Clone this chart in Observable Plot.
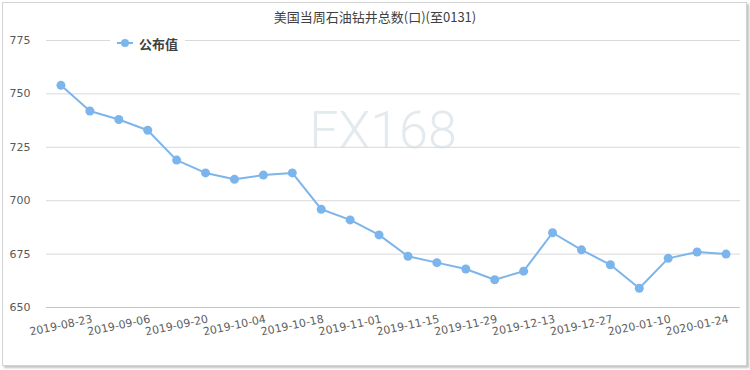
<!DOCTYPE html>
<html><head><meta charset="utf-8">
<script src="https://cdn.jsdelivr.net/npm/d3@7"></script>
<script src="https://cdn.jsdelivr.net/npm/@observablehq/plot@0.6"></script>
<style>
body{margin:0;background:#fff;}
#wrap{position:relative;width:750px;height:370px;overflow:hidden;font-family:"DejaVu Sans",sans-serif;background:#fff;}
#frame{position:absolute;left:2px;top:2px;width:743px;height:362px;border:1px solid #d3d3d3;box-shadow:2px 2px 2px #c4c4c4;background:#fff;}
#chart{position:absolute;left:0;top:0;}
#title{position:absolute;left:0;width:750px;top:8px;text-align:center;font-family:"Noto Sans CJK SC",sans-serif;font-size:13px;color:#404040;line-height:18px;}
#legend{position:absolute;left:110px;top:34px;width:75px;height:18px;background:#fff;display:flex;align-items:center;}
#legend svg{margin-left:7px;}
#legend span{font-family:"Noto Sans CJK SC",sans-serif;font-size:13px;font-weight:bold;color:#404040;margin-left:6px;}
#wm{position:absolute;left:258px;width:250px;top:98px;text-align:center;font-family:Roboto,sans-serif;font-weight:300;font-size:52px;color:#e3eaee;line-height:66px;}
</style></head>
<body>
<div id="wrap">
  <div id="frame"></div>
  <div id="wm">FX168</div>
  <div id="chart"></div>
  <div id="title">美国当周石油钻井总数(口)(至0131)</div>
  <div id="legend"><svg width="16" height="10"><line x1="0" y1="5" x2="16" y2="5" stroke="#7cb5ec" stroke-width="2"/><circle cx="8" cy="5" r="4" fill="#7cb5ec"/></svg><span>公布值</span></div>
</div>
<script>
const dates = ["2019-08-23","2019-08-30","2019-09-06","2019-09-13","2019-09-20","2019-09-27","2019-10-04","2019-10-11","2019-10-18","2019-10-25","2019-11-01","2019-11-08","2019-11-15","2019-11-22","2019-11-29","2019-12-06","2019-12-13","2019-12-20","2019-12-27","2020-01-03","2020-01-10","2020-01-17","2020-01-24","2020-01-31"];
const values = [754,742,738,733,719,713,710,712,713,696,691,684,674,671,668,663,667,685,677,670,659,673,676,675];
const tickLabels = ["2019-08-23","2019-09-06","2019-09-20","2019-10-04","2019-10-18","2019-11-01","2019-11-15","2019-11-29","2019-12-13","2019-12-27","2020-01-10","2020-01-24"];
const yTicks = [650,675,700,725,750,775];
const gridTicks = [675,700,725,750,775];

const data = dates.map((d,i)=>({date:d, value:values[i]}));
const color = "#7cb5ec";

const plot = Plot.plot({
  width: 750, height: 370,
  marginLeft: 46, marginRight: 10, marginTop: 40, marginBottom: 63,
  style: {background: "transparent", fontFamily: "DejaVu Sans, sans-serif"},
  x: {type: "point", domain: dates, padding: 0.5, round: false, axis: null},
  y: {domain: [650, 775], axis: null},
  marks: [
    Plot.ruleY(gridTicks, {stroke: "#d9d9d9", strokeWidth: 1}),
    Plot.ruleY([650], {stroke: "#b4c8e6", strokeWidth: 1}),
    Plot.axisY({ticks: yTicks, tickSize: 0, tickPadding: 16, fontSize: 11, fill: "#595959", label: null, tickFormat: d=>String(d)}),
    Plot.text(tickLabels, {x: d=>d, frameAnchor: "bottom", dy: 18, rotate: -12, textAnchor: "middle", lineAnchor: "middle", fill: "#606060", fontSize: 11, style: "letter-spacing:0.2px"}),
    Plot.line(data, {x: "date", y: "value", stroke: color, strokeWidth: 2}),
    Plot.dot(data, {x: "date", y: "value", r: 4.5, fill: color, stroke: null})
  ]
});
document.getElementById("chart").appendChild(plot);
</script>
</body></html>
